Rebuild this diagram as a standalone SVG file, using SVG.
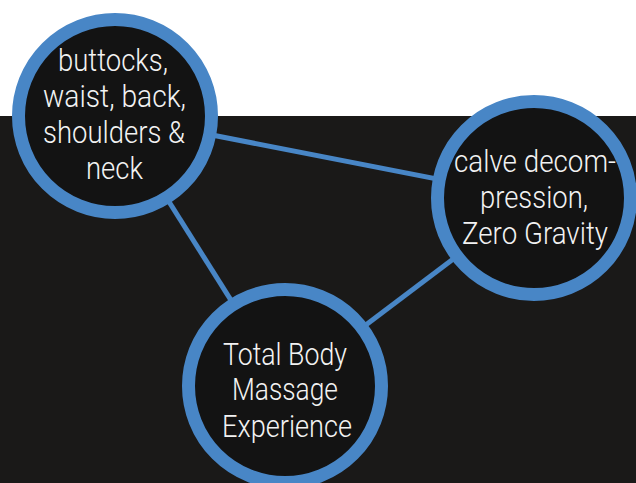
<svg xmlns="http://www.w3.org/2000/svg" width="636" height="483" viewBox="0 0 636 483">
<style>
.node{fill:#131313;stroke:#4886c6;stroke-width:13}
.edge{stroke:#4886c6;stroke-width:5;fill:none}
text{font-family:Roboto,"Liberation Sans",sans-serif;font-weight:300;font-size:31px;fill:#f2f2f2;text-anchor:middle}
</style>
<rect x="0" y="0" width="636" height="483" fill="#ffffff"/>
<rect x="0" y="116" width="636" height="367" fill="#1a1918"/>
<g id="connectors">
<line class="edge" x1="115" y1="116" x2="534" y2="198"/>
<line class="edge" x1="115" y1="116" x2="285" y2="386"/>
<line class="edge" x1="534" y1="198" x2="285" y2="386"/>
</g>
<g id="node-body">
<circle class="node" cx="115" cy="116" r="96.5"/>
<text x="113" y="71" textLength="110" lengthAdjust="spacingAndGlyphs">buttocks,</text>
<text x="114.5" y="107" textLength="143" lengthAdjust="spacingAndGlyphs">waist, back,</text>
<text x="114" y="143" textLength="142" lengthAdjust="spacingAndGlyphs">shoulders &amp;</text>
<text x="114.5" y="179" textLength="57" lengthAdjust="spacingAndGlyphs">neck</text>
</g>
<g id="node-calve">
<circle class="node" cx="534" cy="198" r="96.5"/>
<text x="535" y="172" textLength="162" lengthAdjust="spacingAndGlyphs">calve decom-</text>
<text x="534" y="208" textLength="108" lengthAdjust="spacingAndGlyphs">pression,</text>
<text x="535" y="244" textLength="146" lengthAdjust="spacingAndGlyphs">Zero Gravity</text>
</g>
<g id="node-total">
<circle class="node" cx="285" cy="386" r="96.5"/>
<text x="285" y="365" textLength="124" lengthAdjust="spacingAndGlyphs">Total Body</text>
<text x="285" y="400" textLength="106" lengthAdjust="spacingAndGlyphs">Massage</text>
<text x="287" y="437" textLength="130" lengthAdjust="spacingAndGlyphs">Experience</text>
</g>
</svg>
